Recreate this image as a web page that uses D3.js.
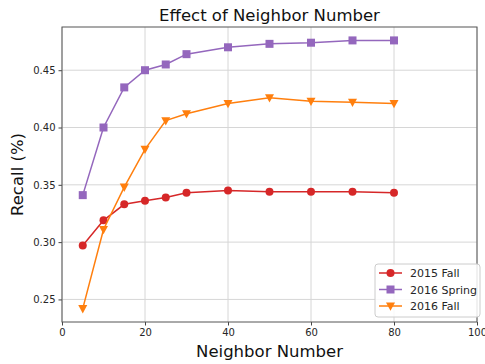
<!DOCTYPE html>
<html>
<head>
<meta charset="utf-8">
<script src="https://cdn.jsdelivr.net/npm/d3@7"></script>
<style>
  body { margin: 0; background: #fff; }
  svg { font-family: "DejaVu Sans", sans-serif; }
</style>
</head>
<body>
<div id="chart"></div>
<script>
// neighbor counts on the x axis
var neighbors = [5, 10, 15, 20, 25, 30, 40, 50, 60, 70, 80];
var fall2015 = [0.297, 0.319, 0.333, 0.336, 0.339, 0.343, 0.345, 0.344, 0.344, 0.344, 0.343];
var spring2016 = [0.341, 0.400, 0.435, 0.450, 0.455, 0.464, 0.470, 0.473, 0.474, 0.476, 0.476];
var fall2016 = [0.242, 0.311, 0.348, 0.381, 0.406, 0.412, 0.421, 0.426, 0.423, 0.422, 0.421];
var seriesNames = ["2015 Fall", "2016 Spring", "2016 Fall"];
var xTicks = [0, 20, 40, 60, 80, 100];
var yTicks = [0.25, 0.30, 0.35, 0.40, 0.45];

var W = 485, H = 364;
var m = {left: 62, right: 8, top: 27, bottom: 42};

var svg = d3.select("#chart").append("svg").attr("width", W).attr("height", H);

var x = d3.scaleLinear().domain([0, 100]).range([m.left, W - m.right]);
var y = d3.scaleLinear().domain([0.2303, 0.4877]).range([H - m.bottom, m.top]);

// grid
svg.append("g").selectAll("line").data(xTicks).enter().append("line")
    .attr("x1", d => x(d)).attr("x2", d => x(d))
    .attr("y1", m.top).attr("y2", H - m.bottom)
    .attr("stroke", "#d6d6d6").attr("stroke-width", 1);
svg.append("g").selectAll("line").data(yTicks).enter().append("line")
    .attr("x1", m.left).attr("x2", W - m.right)
    .attr("y1", d => y(d)).attr("y2", d => y(d))
    .attr("stroke", "#d6d6d6").attr("stroke-width", 1);

// axes
var xAxis = svg.append("g").attr("transform", "translate(0," + (H - m.bottom) + ")")
    .call(d3.axisBottom(x).tickValues(xTicks).tickSize(3.5).tickPadding(3).tickFormat(d3.format("d")));
var yAxis = svg.append("g").attr("transform", "translate(" + m.left + ",0)")
    .call(d3.axisLeft(y).tickValues(yTicks).tickSize(3.5).tickPadding(3).tickFormat(d3.format(".2f")));
[xAxis, yAxis].forEach(function(a) {
    a.select(".domain").remove();
    a.selectAll("text").attr("font-size", 10).attr("fill", "#262626").attr("font-family", "DejaVu Sans");
    a.selectAll(".tick line").attr("stroke", "#444");
});

// frame
svg.append("rect").attr("x", m.left).attr("y", m.top)
    .attr("width", W - m.right - m.left).attr("height", H - m.bottom - m.top)
    .attr("fill", "none").attr("stroke", "#555").attr("stroke-width", 1);

var series = [
    {name: seriesNames[0], values: fall2015, color: "#d62728", shape: "circle"},
    {name: seriesNames[1], values: spring2016, color: "#9467bd", shape: "square"},
    {name: seriesNames[2], values: fall2016, color: "#ff7f0e", shape: "tri"}
];

function marker(g, shape, color) {
    if (shape == "circle") {
        g.append("circle").attr("r", 4).attr("fill", color);
    } else if (shape == "square") {
        g.append("rect").attr("x", -4).attr("y", -4).attr("width", 8).attr("height", 8).attr("fill", color);
    } else {
        g.append("path").attr("d", "M-4.5,-3.5L4.5,-3.5L0,4.8Z").attr("fill", color);
    }
}

var line = d3.line().x(d => x(d[0])).y(d => y(d[1]));

series.forEach(function(s) {
    var pts = neighbors.map((n, i) => [n, s.values[i]]);
    svg.append("path").datum(pts).attr("d", line)
        .attr("fill", "none").attr("stroke", s.color).attr("stroke-width", 1.5);
    pts.forEach(function(p) {
        var g = svg.append("g").attr("transform", "translate(" + x(p[0]) + "," + y(p[1]) + ")");
        marker(g, s.shape, s.color);
    });
});

// title and labels
svg.append("text").attr("x", (m.left + W - m.right) / 2).attr("y", 21)
    .attr("text-anchor", "middle").attr("font-size", 16.5).attr("fill", "#111")
    .text("Effect of Neighbor Number");
svg.append("text").attr("x", (m.left + W - m.right) / 2).attr("y", 357)
    .attr("text-anchor", "middle").attr("font-size", 16.5).attr("fill", "#111")
    .text("Neighbor Number");
svg.append("text").attr("transform", "translate(23," + ((m.top + H - m.bottom) / 2) + ") rotate(-90)")
    .attr("text-anchor", "middle").attr("font-size", 16.5).attr("fill", "#111")
    .text("Recall (%)");

// legend
var lg = svg.append("g").attr("transform", "translate(375,264)");
lg.append("rect").attr("width", 105).attr("height", 53).attr("rx", 3)
    .attr("fill", "rgba(255,255,255,0.85)").attr("stroke", "#ccc");
series.forEach(function(s, i) {
    var row = lg.append("g").attr("transform", "translate(0," + (9 + i * 16.5) + ")");
    row.append("line").attr("x1", 4).attr("x2", 27).attr("stroke", s.color).attr("stroke-width", 1.5);
    marker(row.append("g").attr("transform", "translate(15.5,0)"), s.shape, s.color);
    row.append("text").attr("x", 35).attr("y", 4).attr("font-size", 11).attr("fill", "#262626").text(s.name);
});
</script>
</body>
</html>
